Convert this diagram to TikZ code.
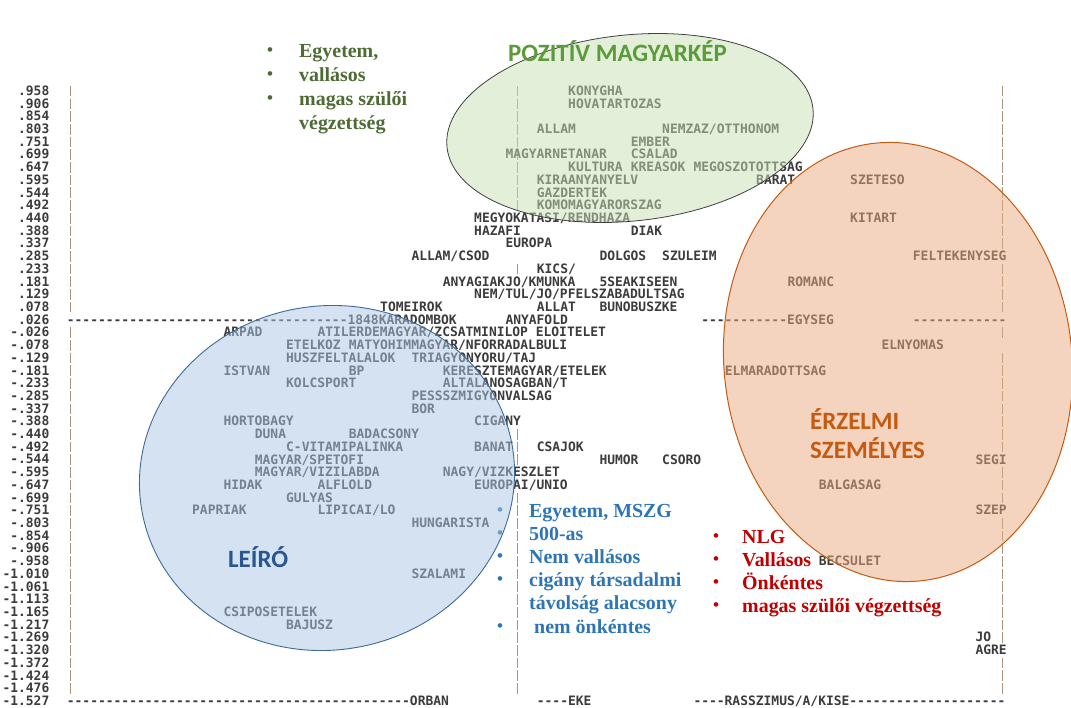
\documentclass[tikz,border=0pt]{standalone}
\usepackage{fontspec}
\setmonofont{DejaVu Sans Mono}
\newfontfamily\listfont{Liberation Serif}
\newfontfamily\titlefont{Carlito}
\definecolor{WordGray}{HTML}{3C3C3C}
\definecolor{LineGray}{HTML}{A8957F}
\definecolor{GreenBlob}{HTML}{C9E0B4}
\definecolor{GreenEdge}{HTML}{404040}
\definecolor{BlueBlob}{HTML}{ABC7E7}
\definecolor{BlueEdge}{HTML}{3D6A96}
\definecolor{OrangeBlob}{HTML}{EBAB81}
\definecolor{OrangeEdge}{HTML}{C55A11}
\definecolor{PosGreen}{HTML}{5B9B3A}
\definecolor{ListGreen}{HTML}{4F6B35}
\definecolor{DescBlue}{HTML}{2A5590}
\definecolor{ListBlue}{HTML}{2E75B6}
\definecolor{ListRed}{HTML}{C00000}
\newcommand{\listbullet}{\makebox[8bp]{\raisebox{2bp}{\fontsize{17}{17}\selectfont\textbullet}}}
\tikzset{
  % Text styles
  word/.style={anchor=base west, inner sep=0pt, text=WordGray, font=\ttfamily\bfseries\fontsize{13}{15}\selectfont},
  ticklabel/.style={word, anchor=base east},
  listnode/.style={anchor=base west, inner sep=0pt, font=\listfont\bfseries\fontsize{20}{23.3}\selectfont},
  blobtitle/.style={anchor=base west, inner sep=0pt, font=\titlefont\bfseries\fontsize{25}{30}\selectfont},
  % Line styles
  axisline/.style={draw=LineGray, line width=0.9pt, dash pattern=on 10.6bp off 2.11bp},
  % Ellipse styles
  greenblob/.style={draw=GreenEdge, line width=0.8pt, fill=GreenBlob, fill opacity=0.5},
  blueblob/.style={draw=BlueEdge, line width=0.9pt, fill=BlueBlob, fill opacity=0.5},
  orangeblob/.style={draw=OrangeEdge, line width=1pt, fill=OrangeBlob, fill opacity=0.5}
}

\begin{document}
\begin{tikzpicture}[x=1bp, y=-1bp]
  \path[use as bounding box, fill=white] (0,0) rectangle (1071,708);

  \begin{scope}[yshift=1.8bp]
  % Scale values
  \foreach \v [count=\i from 0] in {.958,.906,.854,.803,.751,.699,.647,.595,.544,.492,.440,.388,.337,.285,.233,.181,.129,.078,.026,-.026,-.078,-.129,-.181,-.233,-.285,-.337,-.388,-.440,-.492,-.544,-.595,-.647,-.699,-.751,-.803,-.854,-.906,-.958,-1.010,-1.061,-1.113,-1.165,-1.217,-1.269,-1.320,-1.372,-1.424,-1.476,-1.527}
    \node[ticklabel] (tick\i) at (49.5,{97.2+12.71*\i}) {\v};

  % Vertical axes
  \foreach \lx/\ra/\rb in {70.6/0/17, 70.6/19/47, 517.1/0/9, 517.1/14/14, 517.1/27/29, 517.1/32/47, 1002.7/0/12, 1002.7/14/17, 1002.7/19/19, 1002.7/21/28, 1002.7/30/32, 1002.7/34/43, 1002.7/45/47}
    \draw[axisline] (\lx,{87.6+12.71*\ra}) -- (\lx,{98.2+12.71*\rb});

  % Upper half
  \node[word] (konygha) at (568.0,97.2) {KONYGHA};
  \node[word] (hovatartozas) at (568.0,109.9) {HOVATARTOZAS};
  \node[word] (allam) at (536.7,135.3) {ALLAM};
  \node[word] (nemzaz) at (662.0,135.3) {NEMZAZ/OTTHONOM};
  \node[word] (ember) at (630.7,148.0) {EMBER};
  \node[word] (magyarnetanar) at (505.3,160.8) {MAGYARNETANAR};
  \node[word] (csalad) at (630.7,160.8) {CSALAD};
  \node[word] (kultura) at (568.0,173.5) {KULTURA};
  \node[word] (kreasok) at (630.7,173.5) {KREASOK};
  \node[word] (megoszto) at (693.3,173.5) {MEGOSZOTOTTSAG};
  \node[word] (kiraanyanyelv) at (536.7,186.2) {KIRAANYANYELV};
  \node[word] (barat) at (756.0,186.2) {BARAT};
  \node[word] (szeteso) at (850.0,186.2) {SZETESO};
  \node[word] (gazdertek) at (536.7,198.9) {GAZDERTEK};
  \node[word] (komo) at (536.7,211.6) {KOMOMAGYARORSZAG};
  \node[word] (megyokatasi) at (474.0,224.3) {MEGYOKATASI/RENDHAZA};
  \node[word] (kitart) at (850.0,224.3) {KITART};
  \node[word] (hazafi) at (474.0,237.0) {HAZAFI};
  \node[word] (diak) at (630.7,237.0) {DIAK};
  \node[word] (europa) at (505.3,249.7) {EUROPA};
  \node[word] (allamcsod) at (411.3,262.4) {ALLAM/CSOD};
  \node[word] (dolgos) at (599.3,262.4) {DOLGOS};
  \node[word] (szuleim) at (662.0,262.4) {SZULEIM};
  \node[word] (feltekenyseg) at (912.7,262.4) {FELTEKENYSEG};
  \node[word] (kics) at (536.7,275.1) {KICS/};
  \node[word] (anyagiakjo) at (442.7,287.9) {ANYAGIAKJO/KMUNKA};
  \node[word] (seakiseen) at (599.3,287.9) {5SEAKISEEN};
  \node[word] (romanc) at (787.3,287.9) {ROMANC};
  \node[word] (nemtul) at (474.0,300.6) {NEM/TUL/JO/PFELSZABADULTSAG};
  \node[word] (tomeirok) at (380.0,313.3) {TOMEIROK};
  \node[word] (allat) at (536.7,313.3) {ALLAT};
  \node[word] (bunobuszke) at (599.3,313.3) {BUNOBUSZKE};

  % Horizontal axis
  \node[word] (karadombok) at (66.7,326.0) {------------------------------------1848KARADOMBOK};
  \node[word] (anyafold) at (505.3,326.0) {ANYAFOLD};
  \node[word] (egyseg) at (701.1,326.0) {-----------EGYSEG};
  \node[word] (axisend) at (912.7,326.0) {------------};

  % Lower half
  \node[word] (arpad) at (223.3,338.7) {ARPAD};
  \node[word] (atilerde) at (317.3,338.7) {ATILERDEMAGYAR/ZCSATMINILOP ELOITELET};
  \node[word] (etelkoz) at (286.0,351.4) {ETELKOZ};
  \node[word] (matyohim) at (348.7,351.4) {MATYOHIMMAGYAR/NFORRADALBULI};
  \node[word] (elnyomas) at (881.3,351.4) {ELNYOMAS};
  \node[word] (huszfel) at (286.0,364.1) {HUSZFELTALALOK};
  \node[word] (triagyon) at (411.3,364.1) {TRIAGYONYORU/TAJ};
  \node[word] (istvan) at (223.3,376.8) {ISTVAN};
  \node[word] (bp) at (348.7,376.8) {BP};
  \node[word] (keresztem) at (442.7,376.8) {KERESZTEMAGYAR/ETELEK};
  \node[word] (elmaradott) at (724.7,376.8) {ELMARADOTTSAG};
  \node[word] (kolcsport) at (286.0,389.5) {KOLCSPORT};
  \node[word] (altalanos) at (442.7,389.5) {ALTALANOSAGBAN/T};
  \node[word] (pessz) at (411.3,402.2) {PESSSZMIGYONVALSAG};
  \node[word] (bor) at (411.3,415.0) {BOR};
  \node[word] (hortobagy) at (223.3,427.7) {HORTOBAGY};
  \node[word] (cigany) at (474.0,427.7) {CIGANY};
  \node[word] (duna) at (254.7,440.4) {DUNA};
  \node[word] (badacsony) at (348.7,440.4) {BADACSONY};
  \node[word] (cvitami) at (286.0,453.1) {C-VITAMIPALINKA};
  \node[word] (banat) at (474.0,453.1) {BANAT};
  \node[word] (csajok) at (536.7,453.1) {CSAJOK};
  \node[word] (spetofi) at (254.7,465.8) {MAGYAR/SPETOFI};
  \node[word] (humor) at (599.3,465.8) {HUMOR};
  \node[word] (csoro) at (662.0,465.8) {CSORO};
  \node[word] (segi) at (975.3,465.8) {SEGI};
  \node[word] (vizilabda) at (254.7,478.5) {MAGYAR/VIZILABDA};
  \node[word] (vizkeszlet) at (442.7,478.5) {NAGY/VIZKESZLET};
  \node[word] (hidak) at (223.3,491.2) {HIDAK};
  \node[word] (alflold) at (317.3,491.2) {ALFLOLD};
  \node[word] (europaiunio) at (474.0,491.2) {EUROPAI/UNIO};
  \node[word] (balgasag) at (818.7,491.2) {BALGASAG};
  \node[word] (gulyas) at (286.0,503.9) {GULYAS};
  \node[word] (papriak) at (192.0,516.6) {PAPRIAK};
  \node[word] (lipicai) at (317.3,516.6) {LIPICAI/LO};
  \node[word] (szep) at (975.3,516.6) {SZEP};
  \node[word] (hungarista) at (411.3,529.3) {HUNGARISTA};
  \node[word] (becsulet) at (818.7,567.5) {BECSULET};
  \node[word] (szalami) at (411.3,580.2) {SZALAMI};
  \node[word] (csipos) at (223.3,618.3) {CSIPOSETELEK};
  \node[word] (bajusz) at (286.0,631.0) {BAJUSZ};
  \node[word] (jo) at (975.3,643.7) {JO};
  \node[word] (agre) at (975.3,656.4) {AGRE};

  % Bottom axis
  \node[word] (orban) at (66.7,707.3) {--------------------------------------------ORBAN};
  \node[word] (eke) at (536.7,707.3) {----EKE};
  \node[word] (rasszimus) at (693.3,707.3) {----RASSZIMUS/A/KISE--------------------};
  \end{scope}

  % Group descriptions
  \node[listnode, text=ListGreen, font=\listfont\bfseries\fontsize{20}{24}\selectfont] (greenlist) at (266,58) {\begin{tabular}[t]{@{}l@{\hspace{25bp}}l@{}}
    \listbullet & Egyetem,\\
    \listbullet & vallásos\\
    \listbullet & magas szülői\\
                & végzettség
  \end{tabular}};
  \node[listnode, text=ListBlue] (bluelist) at (496,517) {\begin{tabular}[t]{@{}l@{\hspace{25bp}}l@{}}
    \listbullet & Egyetem, MSZG\\
    \listbullet & 500-as\\
    \listbullet & Nem vallásos\\
    \listbullet & cigány társadalmi\\
                & távolság alacsony\\
    \listbullet & \hspace{5bp}nem önkéntes
  \end{tabular}};
  \node[listnode, text=ListRed] (redlist) at (712,543) {\begin{tabular}[t]{@{}l@{\hspace{22bp}}l@{}}
    \listbullet & NLG\\
    \listbullet & Vallásos\\
    \listbullet & Önkéntes\\
    \listbullet & magas szülői végzettség
  \end{tabular}};

  % Clusters
  \draw[greenblob, rotate around={6:(630,128)}] (630,128) ellipse [x radius=184bp, y radius=93bp];
  \draw[blueblob, rotate around={10:(327,478)}] (327,478) ellipse [x radius=188bp, y radius=172bp];
  \draw[orangeblob, rotate around={6:(898,362)}] (898,362) ellipse [x radius=174bp, y radius=220bp];

  \node[blobtitle, text=PosGreen] (pozitiv) at (508,62) {POZITÍV MAGYARKÉP};
  \node[blobtitle, text=DescBlue] (leiro) at (228,567.5) {LEÍRÓ};
  \node[blobtitle, text=OrangeEdge] (erzelmi) at (810,429) {ÉRZELMI};
  \node[blobtitle, text=OrangeEdge] (szemelyes) at (810,458) {SZEMÉLYES};
\end{tikzpicture}
\end{document}
